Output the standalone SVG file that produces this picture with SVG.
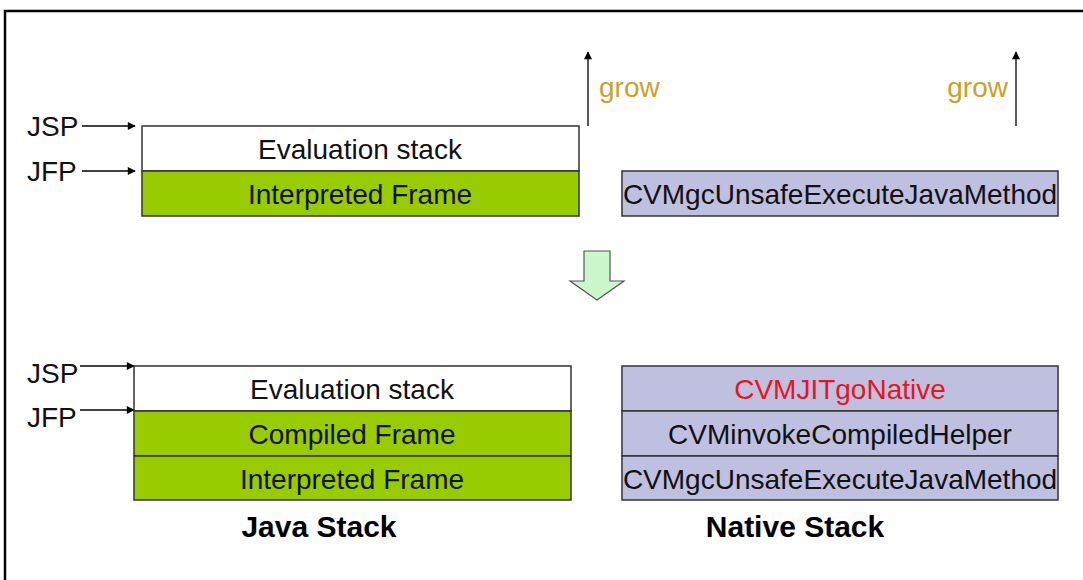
<svg xmlns="http://www.w3.org/2000/svg" width="1083" height="580" viewBox="0 0 1083 580">
<style>
  text { font-family: "Liberation Sans", Arial, sans-serif; font-size: 28px; fill: #111; }
  .c { text-anchor: middle; }
  .grow { fill: #C9A22A; }
  .red { fill: #E8141E; }
  .title { font-weight: bold; font-size: 30px; fill: #000; }
  .white { fill: #FFFFFF; stroke: #333; stroke-width: 1.5; }
  .green { fill: #99CC00; stroke: #333; stroke-width: 1.5; }
  .lav { fill: #BFBFDF; stroke: #333; stroke-width: 1.5; }
  .ptr { stroke: #000; stroke-width: 1.5; fill: none; marker-end: url(#ah); }
  .up { stroke: #222; stroke-width: 1.5; fill: none; marker-end: url(#ah); }
</style>
<defs>
  <marker id="ah" viewBox="0 0 10 10" refX="9" refY="5" markerWidth="9" markerHeight="8" markerUnits="userSpaceOnUse" orient="auto">
    <path d="M0,0 L10,5 L0,10 z" fill="#000"/>
  </marker>
</defs>
<rect x="0" y="0" width="1083" height="580" fill="#FFFFFF"/>
<rect x="25" y="33" width="1041" height="532" fill="#FEFEFE"/>
<rect x="5" y="11" width="1100" height="600" fill="none" stroke="#000" stroke-width="2.5"/>

<g id="connectors">
  <line class="ptr" x1="82" y1="126" x2="135" y2="126"/>
  <line class="ptr" x1="82" y1="171" x2="135" y2="171"/>
  <line class="up" x1="588" y1="126" x2="588" y2="52"/>
  <line class="up" x1="1016" y1="126" x2="1016" y2="52"/>
  <line class="ptr" x1="80" y1="366" x2="134" y2="366"/>
  <line class="ptr" x1="80" y1="410" x2="134" y2="410"/>
</g>

<g id="labels-top">
  <text x="27" y="136">JSP</text>
  <text x="27" y="181">JFP</text>
  <text class="grow" x="599" y="97">grow</text>
  <text class="grow" x="1008" y="97" text-anchor="end">grow</text>
</g>

<g id="java-stack-top">
  <rect class="white" x="142" y="126" width="437" height="45"/>
  <text class="c" x="360" y="159">Evaluation stack</text>
  <rect class="green" x="142" y="171" width="437" height="45"/>
  <text class="c" x="360" y="204">Interpreted Frame</text>
</g>

<g id="native-stack-top">
  <rect class="lav" x="622" y="171" width="436" height="45"/>
  <text class="c" x="840" y="204">CVMgcUnsafeExecuteJavaMethod</text>
</g>

<g id="transition-arrow">
  <path d="M584,251 L610,251 L610,281 L624,281 L597,300 L570,281 L584,281 Z" fill="#CCF7CC" stroke="#555" stroke-width="1.2"/>
</g>

<g id="labels-bottom">
  <text x="27" y="383">JSP</text>
  <text x="27" y="427">JFP</text>
</g>

<g id="java-stack-bottom">
  <rect class="white" x="134" y="366" width="437" height="45"/>
  <text class="c" x="352" y="399">Evaluation stack</text>
  <rect class="green" x="134" y="411" width="437" height="45"/>
  <text class="c" x="352" y="444">Compiled Frame</text>
  <rect class="green" x="134" y="456" width="437" height="44"/>
  <text class="c" x="352" y="489">Interpreted Frame</text>
  <text class="title" x="319" y="537" text-anchor="middle">Java Stack</text>
</g>

<g id="native-stack-bottom">
  <rect class="lav" x="622" y="366" width="436" height="45"/>
  <text class="c red" x="840" y="399">CVMJITgoNative</text>
  <rect class="lav" x="622" y="411" width="436" height="45"/>
  <text class="c" x="840" y="444">CVMinvokeCompiledHelper</text>
  <rect class="lav" x="622" y="456" width="436" height="44"/>
  <text class="c" x="840" y="489">CVMgcUnsafeExecuteJavaMethod</text>
  <text class="title" x="795" y="537" text-anchor="middle">Native Stack</text>
</g>
</svg>
